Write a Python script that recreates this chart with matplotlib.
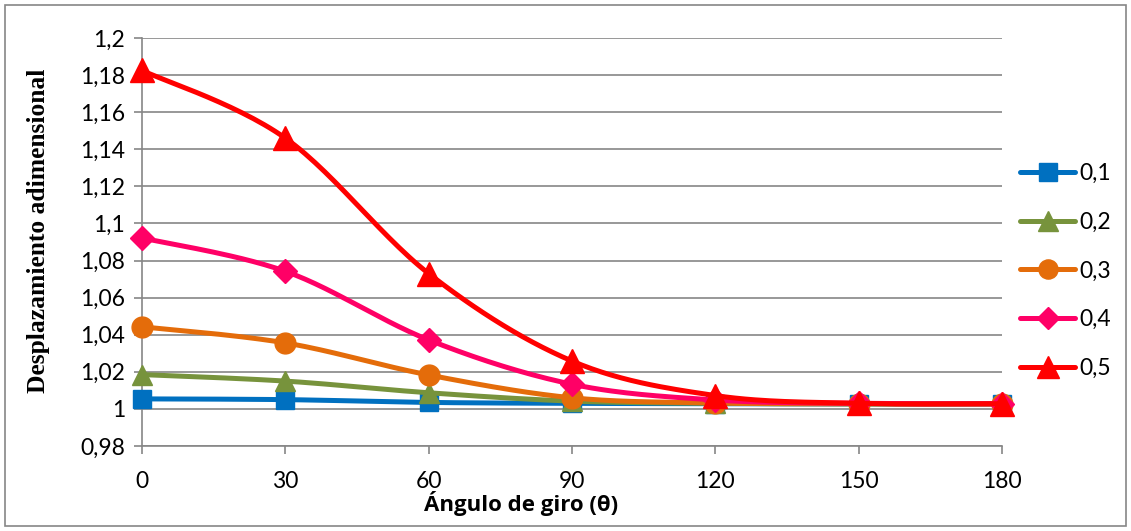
import numpy as np
import matplotlib
matplotlib.use("Agg")
import matplotlib.pyplot as plt
from matplotlib.patches import Rectangle

angles = [0, 30, 60, 90, 120, 150, 180]
labels = ["0,1", "0,2", "0,3", "0,4", "0,5"]
s01 = [1.0054, 1.0050, 1.0035, 1.0030, 1.0028, 1.0027, 1.0027]
s02 = [1.0185, 1.0150, 1.0087, 1.0042, 1.0030, 1.0027, 1.0027]
s03 = [1.0443, 1.0356, 1.0183, 1.0060, 1.0032, 1.0028, 1.0027]
s04 = [1.0922, 1.0742, 1.0372, 1.0133, 1.0048, 1.0030, 1.0028]
s05 = [1.1825, 1.1460, 1.0730, 1.0258, 1.0072, 1.0030, 1.0028]
series = [s01, s02, s03, s04, s05]
colors = ["#0070C0", "#77933C", "#E46C0A", "#FF0066", "#FF0000"]
markers = ["s", "^", "o", "D", "^"]
msizes = [13.5, 15, 15, 12, 17]
yticks = [0.98, 1.0, 1.02, 1.04, 1.06, 1.08, 1.1, 1.12, 1.14, 1.16, 1.18, 1.2]
yticklabels = ["0,98", "1", "1,02", "1,04", "1,06", "1,08", "1,1", "1,12", "1,14", "1,16", "1,18", "1,2"]

FONT = ["Lato", "DejaVu Sans"]


def smooth(x, y, n=30):
    x = np.asarray(x, float)
    y = np.asarray(y, float)
    P = np.column_stack([x, y])
    out = []
    for i in range(len(P) - 1):
        p0 = P[i - 1] if i > 0 else P[i]
        p1 = P[i]
        p2 = P[i + 1]
        p3 = P[i + 2] if i + 2 < len(P) else P[i + 1]
        c1 = p1 + (p2 - p0) / 6.0
        c2 = p2 - (p3 - p1) / 6.0
        t = np.linspace(0, 1, n)[:, None]
        seg = ((1 - t) ** 3) * p1 + 3 * ((1 - t) ** 2) * t * c1 + 3 * (1 - t) * t ** 2 * c2 + t ** 3 * p2
        out.append(seg if i == 0 else seg[1:])
    out = np.vstack(out)
    return out[:, 0], out[:, 1]


fig = plt.figure(figsize=(11.31, 5.31), dpi=100)
ax = fig.add_axes([142 / 1131, 1 - 446 / 531, (1002 - 142) / 1131, (446 - 38) / 531])

for k, (vals, c, m, ms, lab) in enumerate(zip(series, colors, markers, msizes, labels)):
    sx, sy = smooth(angles, vals)
    ax.plot(sx, sy, color=c, lw=3.6, zorder=3 + k, solid_capstyle="round")
    ax.plot(angles, vals, linestyle="none", marker=m, color=c, markersize=ms, zorder=3 + k,
            clip_on=False)
    ax.plot([], [], color=c, lw=3.6, marker=m, markersize=ms * 0.92, label=lab, solid_capstyle="round")

ax.set_xlim(0, 180)
ax.set_ylim(0.98, 1.2)
ax.set_xticks(angles)
ax.set_xticklabels([str(a) for a in angles], fontsize=16.5, family=FONT)
ax.set_yticks(yticks)
ax.set_yticklabels(yticklabels, fontsize=16.5, family=FONT)
ax.grid(axis="y", color="#868686", lw=1.2)
ax.set_axisbelow(True)
for s in ["top", "right"]:
    ax.spines[s].set_visible(False)
for s in ["left", "bottom"]:
    ax.spines[s].set_color("#868686")
    ax.spines[s].set_linewidth(1.2)
ax.tick_params(axis="both", color="#868686", length=6, width=1.2, direction="out")
ax.tick_params(axis="x", pad=12)
ax.tick_params(axis="y", pad=6)

fig.text(39 / 1131, 1 - 231 / 531, "Desplazamiento adimensional", rotation=90,
         ha="center", va="center", fontsize=18.4, fontweight="bold", family="Liberation Serif")
fig.text(521 / 1131, 1 - 503 / 531, "Ángulo de giro (θ)", ha="center", va="center",
         fontsize=16, fontweight="bold", family=["Open Sans", "DejaVu Sans"])

leg = ax.legend(loc="center left", bbox_to_anchor=(1020 / 1131, 1 - 271 / 531),
                bbox_transform=fig.transFigure, frameon=False,
                handlelength=2.4, labelspacing=1.21, handletextpad=0.2,
                borderpad=0, borderaxespad=0,
                prop={"family": FONT, "size": 16.5})

fig.add_artist(Rectangle((5 / 1131, 5 / 531), 1121 / 1131, 521 / 531, transform=fig.transFigure,
                         fill=False, edgecolor="#868686", lw=1.2))

fig.savefig("out.png", dpi=100, facecolor="white")
